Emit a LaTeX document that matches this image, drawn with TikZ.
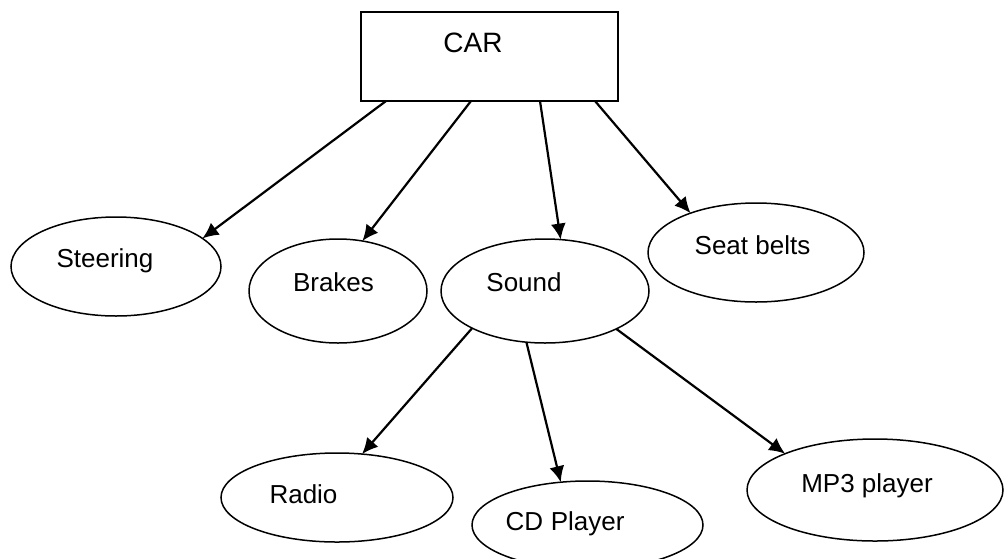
\documentclass[tikz,border=0pt]{standalone}
\usepackage{fontspec}
\setmainfont{Liberation Sans}
\usetikzlibrary{shapes.geometric,arrows.meta}
\begin{document}
\begin{tikzpicture}[x=1pt,y=-1pt,
  box/.style={draw,line width=1.5pt,minimum width=257pt,minimum height=89pt,inner sep=0pt,outer sep=0pt},
  oval/.style={draw,ellipse,line width=1.5pt,inner sep=0pt,outer sep=0pt},
  lbl/.style={anchor=base,inner sep=0pt,font=\fontsize{26}{30}\selectfont},
  link/.style={line width=2.2pt,-{Latex[length=16pt,width=15pt]}}]
\path[use as bounding box,clip] (0,0) rectangle (1004,558);

% root box
\node[box] (car) at (489.5,56.5) {};
\node[lbl,font=\fontsize{28}{32}\selectfont] (cart) at (473,52) {CAR};

% first level
\node[oval,minimum width=210pt,minimum height=99pt]  (steer) at (116,266.5) {};
\node[oval,minimum width=178pt,minimum height=104pt] (brake) at (338,291) {};
\node[oval,minimum width=208pt,minimum height=104pt] (sound) at (545,291) {};
\node[oval,minimum width=216pt,minimum height=99pt]  (seat)  at (756,252.5) {};

\node[lbl] (steert) at (105,267)   {Steering};
\node[lbl] (braket) at (333.5,291) {Brakes};
\node[lbl] (soundt) at (524,291)   {Sound};
\node[lbl] (seatt)  at (752.5,254) {Seat belts};

% second level
\node[oval,minimum width=232pt,minimum height=89pt]  (radio) at (337,497.5) {};
\node[oval,minimum width=231pt,minimum height=88pt]  (cd)    at (587.5,525) {};
\node[oval,minimum width=256pt,minimum height=102pt] (mp3)   at (875,490) {};

\node[lbl] (radiot) at (303.5,503) {Radio};
\node[lbl] (cdt)    at (565,530)   {CD\hspace{0.5pt} Player};
\node[lbl] (mp3t)   at (867,492)   {MP3 player};

% connectors
\draw[link] ([xshift=25pt]car.south west)  -- (steer.18.9);
\draw[link] ([xshift=110pt]car.south west) -- (brake.64.4);
\draw[link] ([xshift=179pt]car.south west) -- (sound.73.8);
\draw[link] ([xshift=234pt]car.south west) -- (seat.149.7);

\draw[link] (sound.207.8) -- (radio.60);
\draw[link] (sound.250.6) -- (cd.122.8);
\draw[link] (sound.332.5) -- (mp3.158.7);
\end{tikzpicture}
\end{document}
